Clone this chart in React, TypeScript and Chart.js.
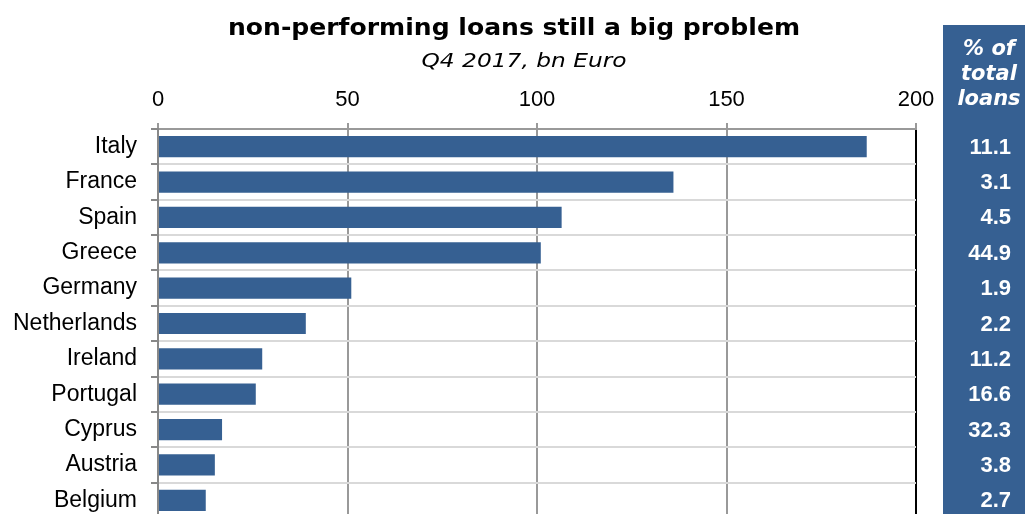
import React, { useEffect, useRef } from "react";
import { Chart, registerables } from "chart.js";

Chart.register(...registerables);

const countries = ["Italy", "France", "Spain", "Greece", "Germany", "Netherlands", "Ireland", "Portugal", "Cyprus", "Austria", "Belgium"];
const npl = [187, 136, 106.5, 101, 51, 39, 27.5, 25.8, 16.9, 15, 12.6];
const pctTotal = ["11.1", "3.1", "4.5", "44.9", "1.9", "2.2", "11.2", "16.6", "32.3", "3.8", "2.7"];
const xTicks = [0, 50, 100, 150, 200];
const title = "non-performing loans still a big problem";
const subtitle = "Q4 2017, bn Euro";
const panelHeader = ["% of", "total", "loans"];

const BLUE = "rgb(54, 96, 146)";

function drawStretched(ctx: any, text: string, cx: number, y: number, targetWidth: number) {
  const w = ctx.measureText(text).width;
  const sx = targetWidth / w;
  ctx.save();
  ctx.translate(cx, y);
  ctx.scale(sx, 1);
  ctx.textAlign = "center";
  ctx.fillText(text, 0, 0);
  ctx.restore();
}

const overlayPlugin = {
  id: "overlay",
  afterDraw(chart: any) {
    const ctx = chart.ctx;
    const yScale = chart.scales.y;
    ctx.save();
    // title
    ctx.fillStyle = "#000";
    ctx.textBaseline = "alphabetic";
    ctx.font = "bold 23px 'DejaVu Sans'";
    drawStretched(ctx, title, 514, 35, 572);
    ctx.font = "oblique 20px 'DejaVu Sans'";
    drawStretched(ctx, subtitle, 524, 67, 205);
    // right panel
    ctx.fillStyle = BLUE;
    ctx.fillRect(943, 25, 1025 - 943, chart.height - 25);
    ctx.fillStyle = "#fff";
    ctx.textAlign = "center";
    ctx.font = "bold oblique 21px 'DejaVu Sans'";
    const hy = [55, 80, 105];
    panelHeader.forEach((t, i) => ctx.fillText(t, 989, hy[i], 66));
    ctx.textAlign = "right";
    ctx.textBaseline = "middle";
    ctx.font = "bold 22px 'Liberation Sans'";
    pctTotal.forEach((v, i) => {
      const y = yScale.getPixelForValue(i);
      ctx.fillText(v, 1011, y + 1);
    });
    ctx.restore();
  },
};

export default function App() {
  const ref = useRef<HTMLCanvasElement>(null);
  useEffect(() => {
    if (!ref.current) return;
    const chart = new Chart(ref.current, {
      type: "bar",
      data: {
        labels: countries,
        datasets: [
          {
            data: npl,
            backgroundColor: BLUE,
            borderWidth: 0,
            barPercentage: 0.6,
            categoryPercentage: 1,
          },
        ],
      },
      options: {
        indexAxis: "y",
        animation: false,
        responsive: false,
        maintainAspectRatio: false,
        layout: { padding: { left: 0, top: 0, right: 109, bottom: 0 } },
        plugins: { legend: { display: false }, tooltip: { enabled: false }, title: { display: false } },
        scales: {
          x: {
            position: "top",
            min: 0,
            max: 200,
            afterFit(scale: any) {
              scale.height = 129;
              scale.paddingLeft = 0;
              scale.paddingRight = 0;
            },
            afterBuildTicks(scale: any) {
              scale.ticks = xTicks.map((v) => ({ value: v }));
            },
            ticks: {
              color: "#000",
              font: { family: "'Liberation Sans', Arial", size: 22 },
              padding: 10,
              maxRotation: 0,
            },
            grid: {
              color: (c: any) => (c.tick && c.tick.value === 200 ? "#000" : "#999"),
              lineWidth: 2,
              tickColor: "#999",
              tickLength: 6,
              drawOnChartArea: true,
            },
            border: { display: true, color: "#999", width: 2 },
          },
          y: {
            afterFit(scale: any) {
              scale.width = 158;
              scale.paddingTop = 0;
              scale.paddingBottom = 0;
            },
            ticks: {
              color: "#000",
              font: { family: "'Liberation Sans', Arial", size: 23 },
              padding: 14,
            },
            grid: {
              color: "#d9d9d9",
              lineWidth: 2,
              tickColor: "#888",
              tickLength: 7,
              offset: true,
            },
            border: { display: true, color: "#888", width: 2 },
          },
        },
      },
      plugins: [overlayPlugin],
    });
    return () => chart.destroy();
  }, []);
  return (
    <div style={{ position: "fixed", left: 0, top: 0, width: 1025, height: 514, overflow: "hidden", background: "#fff" }}>
      <canvas ref={ref} width={1025} height={518} style={{ width: 1025, height: 518, display: "block" }} />
    </div>
  );
}
